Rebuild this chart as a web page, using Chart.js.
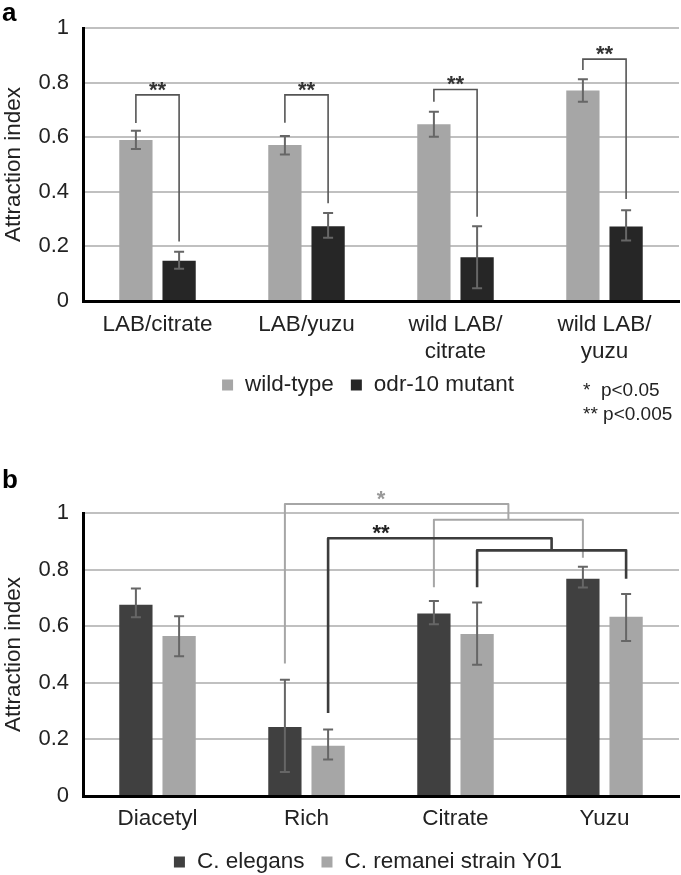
<!DOCTYPE html>
<html>
<head>
<meta charset="utf-8">
<script src="https://cdn.jsdelivr.net/npm/chart.js@4.4.1/dist/chart.umd.min.js"></script>
<style>
  body { margin: 0; background: #fff; }
  canvas { display: block; }
</style>
</head>
<body>
<canvas id="figA" width="681" height="460"></canvas>
<canvas id="figB" width="681" height="415"></canvas>
<script>
// ---- panel a data ----
const catsA = [['LAB/citrate'], ['LAB/yuzu'], ['wild LAB/', 'citrate'], ['wild LAB/', 'yuzu']];
const wildType = [0.59, 0.571, 0.647, 0.771];
const wildTypeLo = [0.557, 0.537, 0.602, 0.730];
const wildTypeHi = [0.624, 0.604, 0.693, 0.812];
const odr10 = [0.147, 0.274, 0.16, 0.273];
const odr10Lo = [0.118, 0.232, 0.047, 0.222];
const odr10Hi = [0.18, 0.322, 0.274, 0.332];
// wild-type vs odr-10 in each category: [category, left foot, top, right foot]
const sigA = [[0, 0.652, 0.755, 0.218], [1, 0.653, 0.755, 0.358], [2, 0.73, 0.775, 0.309], [3, 0.846, 0.886, 0.374]];
const pNotes = ['*  p<0.05', '** p<0.005'];

// ---- panel b data ----
const catsB = ['Diacetyl', 'Rich', 'Citrate', 'Yuzu'];
const elegans = [0.676, 0.244, 0.645, 0.768];
const elegansLo = [0.632, 0.085, 0.607, 0.737];
const elegansHi = [0.733, 0.411, 0.689, 0.81];
const remanei = [0.565, 0.178, 0.572, 0.633];
const remaneiLo = [0.494, 0.129, 0.464, 0.548];
const remaneiHi = [0.635, 0.235, 0.684, 0.714];
// Rich vs (Citrate, Yuzu) for one species: [dataset, label, foot, top, footCitrate, footYuzu, pairTop]
const sigB = [[0, '*', 0.468, 1.032, 0.738, 0.842, 0.976], [1, '**', 0.293, 0.911, 0.738, 0.768, 0.868]];

const yTicks = [0, 0.2, 0.4, 0.6, 0.8, 1];

const FONT = '"Liberation Sans", Arial, sans-serif';

/* error bars from dataset lo/hi */
const errorBars = {
  id: 'errorBars',
  afterDatasetsDraw(chart) {
    const { ctx } = chart;
    const y = chart.scales.y;
    ctx.save();
    ctx.strokeStyle = '#666';
    ctx.lineWidth = 2;
    chart.data.datasets.forEach((ds, di) => {
      chart.getDatasetMeta(di).data.forEach((bar, i) => {
        const t = y.getPixelForValue(ds.hi[i]);
        const b = y.getPixelForValue(ds.lo[i]);
        ctx.beginPath();
        ctx.moveTo(bar.x, t); ctx.lineTo(bar.x, b);
        ctx.moveTo(bar.x - 5, t); ctx.lineTo(bar.x + 5, t);
        ctx.moveTo(bar.x - 5, b); ctx.lineTo(bar.x + 5, b);
        ctx.stroke();
      });
    });
    ctx.restore();
  }
};

/* legend row of squares + labels */
const boxLegend = {
  id: 'boxLegend',
  afterDraw(chart, args, o) {
    const ctx = chart.ctx;
    ctx.save();
    ctx.font = '22.5px ' + FONT;
    ctx.textBaseline = 'middle';
    const items = chart.data.datasets.map(d => ({ text: d.label, color: d.backgroundColor, w: ctx.measureText(d.label).width }));
    const box = 11, gap = 12, spacing = 17;
    const total = items.reduce((s, it) => s + box + gap + it.w, 0) + spacing * (items.length - 1);
    let x = o.center - total / 2;
    items.forEach(it => {
      ctx.fillStyle = it.color;
      ctx.fillRect(x, o.y - box / 2, box, box);
      x += box + gap;
      ctx.fillStyle = '#222';
      ctx.fillText(it.text, x, o.y);
      x += it.w + spacing;
    });
    ctx.restore();
  }
};

function panelLetter(ctx, txt, y) {
  ctx.save();
  ctx.font = 'bold 26px ' + FONT;
  ctx.fillStyle = '#000';
  ctx.textBaseline = 'alphabetic';
  ctx.fillText(txt, 2, y);
  ctx.restore();
}

function stars(ctx, txt, x, yc, color) {
  ctx.save();
  ctx.font = 'bold 22px ' + FONT;
  ctx.fillStyle = color;
  ctx.textAlign = 'center';
  ctx.textBaseline = 'alphabetic';
  ctx.fillText(txt, x, yc + 12);
  ctx.restore();
}

const bracketsA = {
  id: 'bracketsA',
  afterDraw(chart) {
    const { ctx } = chart;
    const y = chart.scales.y;
    const m0 = chart.getDatasetMeta(0).data, m1 = chart.getDatasetMeta(1).data;
    ctx.save();
    ctx.strokeStyle = '#555';
    ctx.lineWidth = 1.6;
    sigA.forEach(([c, footL, top, footR]) => {
      const xl = m0[c].x, xr = m1[c].x, yt = y.getPixelForValue(top);
      ctx.beginPath();
      ctx.moveTo(xl, y.getPixelForValue(footL));
      ctx.lineTo(xl, yt);
      ctx.lineTo(xr, yt);
      ctx.lineTo(xr, y.getPixelForValue(footR));
      ctx.stroke();
      stars(ctx, '**', (xl + xr) / 2, yt - 10, '#333');
    });
    ctx.restore();

    panelLetter(ctx, 'a', 21);
    ctx.save();
    ctx.font = '19px ' + FONT;
    ctx.fillStyle = '#222';
    ctx.textBaseline = 'middle';
    ctx.fillText(pNotes[0], 583, 391);
    ctx.fillText(pNotes[1], 583, 415);
    ctx.restore();
  }
};

const bracketsB = {
  id: 'bracketsB',
  afterDraw(chart) {
    const { ctx } = chart;
    const x = chart.scales.x, y = chart.scales.y;
    const colors = ['#a6a6a6', '#3c3c3c'];
    const widths = [2, 2.6];
    sigB.forEach(([ds, label, foot, top, footC, footY, pairTop]) => {
      const bars = chart.getDatasetMeta(ds).data;
      const xf = bars[1].x, xa = bars[2].x, xb = bars[3].x, xm = (xa + xb) / 2;
      const yt = y.getPixelForValue(top), yp = y.getPixelForValue(pairTop);
      ctx.save();
      ctx.strokeStyle = colors[ds];
      ctx.lineWidth = widths[ds];
      ctx.lineJoin = 'round';
      ctx.beginPath();
      ctx.moveTo(xf, y.getPixelForValue(foot));
      ctx.lineTo(xf, yt);
      ctx.lineTo(xm, yt);
      ctx.lineTo(xm, yp);
      ctx.moveTo(xa, y.getPixelForValue(footC));
      ctx.lineTo(xa, yp);
      ctx.lineTo(xb, yp);
      ctx.lineTo(xb, y.getPixelForValue(footY));
      ctx.stroke();
      ctx.restore();
      const xs = (x.getPixelForValue(1) + x.getPixelForValue(2)) / 2;
      stars(ctx, label, xs, yt - 10, ds === 0 ? '#999' : '#222');
    });
    panelLetter(ctx, 'b', 28);
  }
};

function scalesFor(labelPad, xHeight) {
  return {
    x: {
      grid: { drawOnChartArea: false, drawTicks: false },
      border: { color: '#000', width: 3 },
      ticks: { color: '#222', font: { size: 22.5, family: FONT }, padding: labelPad, maxRotation: 0, autoSkip: false },
      afterFit: s => { s.height = xHeight; }
    },
    y: {
      min: 0, max: 1,
      afterBuildTicks: s => { s.ticks = yTicks.map(v => ({ value: v })); },
      grid: { color: '#c0c0c0', lineWidth: 2, drawTicks: false },
      border: { color: '#000', width: 3 },
      ticks: { color: '#222', font: { size: 22, family: FONT }, padding: 14, callback: v => String(+v.toFixed(1)) },
      title: { display: true, text: 'Attraction index', color: '#222', font: { size: 22.5, family: FONT }, padding: 0 },
      afterFit: s => { s.width = 83; }
    }
  };
}

new Chart(document.getElementById('figA'), {
  type: 'bar',
  data: {
    labels: catsA,
    datasets: [
      { label: 'wild-type', data: wildType, lo: wildTypeLo, hi: wildTypeHi, backgroundColor: '#a6a6a6' },
      { label: 'odr-10 mutant', data: odr10, lo: odr10Lo, hi: odr10Hi, backgroundColor: '#262626' }
    ]
  },
  options: {
    responsive: false,
    animation: false,
    categoryPercentage: 0.58,
    barPercentage: 0.77,
    layout: { padding: { top: 28, right: 2, left: 0, bottom: 0 } },
    plugins: {
      legend: { display: false },
      tooltip: { enabled: false },
      boxLegend: { center: 368, y: 385 }
    },
    scales: scalesFor(10, 159)
  },
  plugins: [errorBars, boxLegend, bracketsA]
});

new Chart(document.getElementById('figB'), {
  type: 'bar',
  data: {
    labels: catsB,
    datasets: [
      { label: 'C. elegans', data: elegans, lo: elegansLo, hi: elegansHi, backgroundColor: '#404040' },
      { label: 'C. remanei strain Y01', data: remanei, lo: remaneiLo, hi: remaneiHi, backgroundColor: '#a6a6a6' }
    ]
  },
  options: {
    responsive: false,
    animation: false,
    categoryPercentage: 0.58,
    barPercentage: 0.77,
    layout: { padding: { top: 53, right: 2, left: 0, bottom: 0 } },
    plugins: {
      legend: { display: false },
      tooltip: { enabled: false },
      boxLegend: { center: 368, y: 402 }
    },
    scales: scalesFor(9, 79)
  },
  plugins: [errorBars, boxLegend, bracketsB]
});
</script>
</body>
</html>
